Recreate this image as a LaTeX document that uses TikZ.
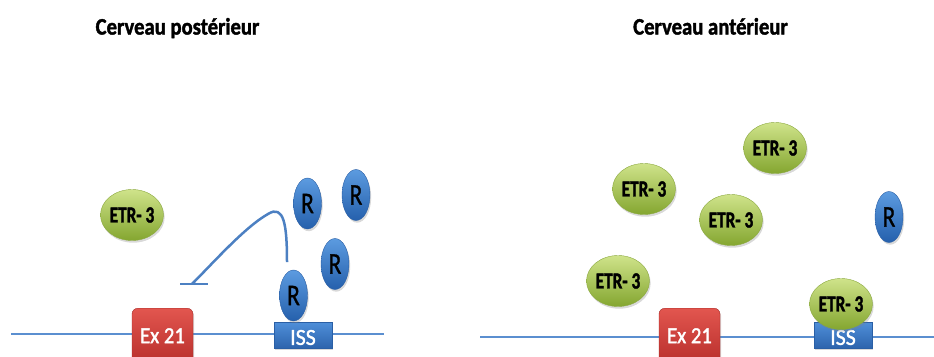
\documentclass[tikz,border=0pt]{standalone}
\usepackage{fontspec}
\setmainfont{Carlito}
\newfontfamily\heavyfont[FakeBold=1.8]{Carlito}
\newfontfamily\medfont[FakeBold=1.0]{Carlito}
\newfontfamily\semifont[FakeBold=1.6]{Carlito}
\usetikzlibrary{shapes.geometric,shadows}
\definecolor{gTop}{HTML}{CFE38A}
\definecolor{gBot}{HTML}{84A630}
\definecolor{gEdge}{HTML}{8AA83E}
\definecolor{bTop}{HTML}{5C9BE0}
\definecolor{bBot}{HTML}{2560AC}
\definecolor{bEdge}{HTML}{2A5FA5}
\definecolor{rTop}{HTML}{E2564F}
\definecolor{rBot}{HTML}{B32A27}
\definecolor{rEdge}{HTML}{A82A27}
\definecolor{iTop}{HTML}{4F8FD9}
\definecolor{iBot}{HTML}{2D64AD}
\definecolor{dnaC}{HTML}{5B8FD0}
\definecolor{inhC}{HTML}{4C80C2}
\newcommand\etrtxt{\scalebox{0.75}[1]{ETR- 3}}
\newcommand\rtxt{\scalebox{0.78}[1]{R}}
\begin{document}
\begin{tikzpicture}[x=1pt,y=-1pt,
  shd/.style={drop shadow={opacity=0.3,shadow xshift=1.2pt,shadow yshift=-2.2pt}},
  etr/.style={ellipse,minimum width=63pt,minimum height=51pt,inner sep=0pt,
    top color=gTop,bottom color=gBot,draw=gEdge,line width=0.4pt,shd,
    label={[font=\fontsize{23}{23}\heavyfont\bfseries,text=black]center:\etrtxt}},
  rnode/.style={ellipse,minimum width=28pt,minimum height=51pt,inner sep=0pt,
    top color=bTop,bottom color=bBot,draw=bEdge,line width=0.4pt,shd,
    label={[font=\fontsize{30}{30}\medfont,text=black]center:\rtxt}},
  exon/.style={rectangle,rounded corners=6pt,minimum width=61pt,minimum height=62pt,inner sep=0pt,
    top color=rTop,bottom color=rBot,draw=rEdge,line width=0.4pt,shd,anchor=north,
    label={[font=\fontsize{23}{23}\semifont,text=white,yshift=3.5pt]center:\scalebox{0.9}[1]{Ex 21}}},
  iss/.style={rectangle,minimum width=58pt,minimum height=26pt,inner sep=0pt,
    top color=iTop,bottom color=iBot,draw=bEdge,line width=0.4pt,shd,
    label={[font=\fontsize{23}{23}\semifont,text=white,yshift=-2.5pt]center:\scalebox{0.95}[1]{ISS}}},
  dna/.style={draw=dnaC,line width=1.6pt},
  inh/.style={draw=inhC,line width=2.5pt},
  ttl/.style={font=\fontsize{23.5}{23.5}\heavyfont\bfseries,anchor=base,inner sep=0pt}
]
\useasboundingbox (0,0) rectangle (934,356);
\clip (0,0) rectangle (934,356);

% titles
\node[ttl] (t1) at (177.5,34.5) {\scalebox{0.88}[1]{Cerveau postérieur}};
\node[ttl] (t2) at (710.5,34.5) {\scalebox{0.88}[1]{Cerveau antérieur}};

% DNA lines
\coordinate (la) at (11,334);
\coordinate (lb) at (384,334);
\coordinate (ra) at (480,337);
\coordinate (rb) at (934,337);
\draw[dna] (la) -- (lb);
\draw[dna] (ra) -- (rb);

% left panel
\node[exon] (ex1) at (162.5,308) {};
\node[iss] (iss1) at (303,335) {};
\node[etr] (e0) at (132,215) {};
\node[rnode] (r1) at (307.5,203.5) {};
\node[rnode] (r2) at (356,195) {};
\node[rnode] (r3) at (335,264) {};
\node[rnode] (r4) at (293.5,295.5) {};

% inhibition
\coordinate (inhS) at (287,262);
\coordinate (inhE) at (192,284);
\coordinate (barL) at (180,284);
\coordinate (barR) at (208,284);
\draw[inh] (inhS) .. controls (287,225) and (284,204) .. (268,214)
  .. controls (245,227) and (214,262) .. (inhE);
\draw[inh] (barL) -- (barR);

% right panel
\node[exon] (ex2) at (689.5,308) {};
\node[iss] (iss2) at (843,335) {};
\node[etr] (e1) at (775,148) {};
\node[etr] (e2) at (644,189) {};
\node[etr] (e3) at (731,220) {};
\node[etr] (e4) at (618,281) {};
\node[etr] (e5) at (841,304) {};
\node[rnode] (r5) at (889,217) {};
\end{tikzpicture}
\end{document}
